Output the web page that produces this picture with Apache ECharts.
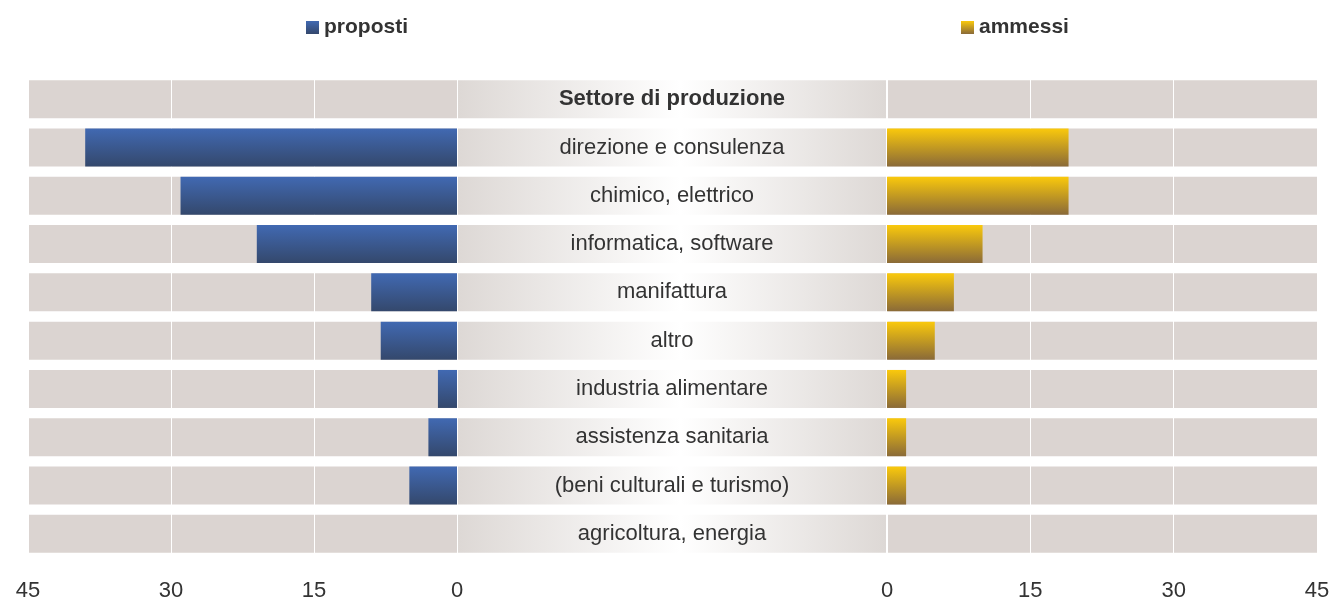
<!DOCTYPE html>
<html>
<head>
<meta charset="utf-8">
<title>Settore di produzione</title>
<script src="https://cdn.jsdelivr.net/npm/echarts@6/dist/echarts.min.js"></script>
<style>
  html, body { margin: 0; padding: 0; background: #fff; }
  #chart { width: 1330px; height: 600px; }
</style>
</head>
<body>
<div id="chart"></div>
<script>
// dati
const categorie = [
  'Settore di produzione',
  'direzione e consulenza',
  'chimico, elettrico',
  'informatica, software',
  'manifattura',
  'altro',
  'industria alimentare',
  'assistenza sanitaria',
  '(beni culturali e turismo)',
  'agricoltura, energia'
];
const proposti = ['-', 39, 29, 21, 9, 8, 2, 3, 5, 0];
const ammessi = ['-', 19, 19, 10, 7, 5, 2, 2, 2, 0];
const tickValori = [0, 15, 30, 45];

const asseMax = tickValori[tickValori.length - 1];
const sfondo = categorie.map(() => asseMax);
const centro = categorie.map(() => 1);

const chart = echarts.init(document.getElementById('chart'));

const gridTop = 75, gridH = 483;
const fontTesto = '"Liberation Sans", Arial, sans-serif';

const blu = new echarts.graphic.LinearGradient(0, 0, 0, 1, [
  { offset: 0, color: '#4169b2' },
  { offset: 1, color: '#34486c' }
]);
const oro = new echarts.graphic.LinearGradient(0, 0, 0, 1, [
  { offset: 0, color: '#fac90c' },
  { offset: 1, color: '#8a6a38' }
]);
const grigioCentro = new echarts.graphic.LinearGradient(0, 0, 1, 0, [
  { offset: 0, color: '#ddd8d5' },
  { offset: 0.52, color: '#ffffff' },
  { offset: 1, color: '#ddd8d5' }
]);

function asseValori(gridIndex, inverse) {
  return {
    type: 'value', gridIndex: gridIndex, inverse: inverse,
    min: 0, max: asseMax, interval: 15, z: 2,
    axisLine: { show: false }, axisTick: { show: false },
    splitLine: { show: true, lineStyle: { color: '#ffffff', width: 1 } },
    axisLabel: {
      margin: 22, fontSize: 22, color: '#333', fontFamily: fontTesto,
      showMinLabel: true, showMaxLabel: true
    }
  };
}
function asseCat(gridIndex) {
  return {
    type: 'category', gridIndex: gridIndex, data: categorie, inverse: true,
    axisLine: { show: false }, axisTick: { show: false }, axisLabel: { show: false },
    splitLine: { show: false }
  };
}

chart.setOption({
  animation: false,
  legend: [
    {
      data: [{ name: 'proposti', itemStyle: { color: blu } }],
      left: 301, top: 12, itemWidth: 13, itemHeight: 13, icon: 'rect', itemGap: 8,
      textStyle: { fontSize: 21, fontWeight: 'bold', color: '#333', fontFamily: fontTesto }
    },
    {
      data: [{ name: 'ammessi', itemStyle: { color: oro } }],
      left: 956, top: 12, itemWidth: 13, itemHeight: 13, icon: 'rect', itemGap: 8,
      textStyle: { fontSize: 21, fontWeight: 'bold', color: '#333', fontFamily: fontTesto }
    }
  ],
  grid: [
    { left: 28, width: 429, top: gridTop, height: gridH, outerBoundsMode: 'none', containLabel: false },
    { left: 458, width: 428, top: gridTop, height: gridH, outerBoundsMode: 'none', containLabel: false },
    { left: 887, width: 430, top: gridTop, height: gridH, outerBoundsMode: 'none', containLabel: false }
  ],
  xAxis: [
    asseValori(0, true),
    { type: 'value', gridIndex: 1, min: 0, max: 1, show: false },
    asseValori(2, false)
  ],
  yAxis: [asseCat(0), asseCat(1), asseCat(2)],
  series: [
    {
      name: 'sfondo-sx', type: 'bar', xAxisIndex: 0, yAxisIndex: 0, data: sfondo,
      barWidth: 38, barGap: '-100%', z: 1, silent: true,
      itemStyle: { color: '#dbd4d1' }
    },
    {
      name: 'proposti', type: 'bar', xAxisIndex: 0, yAxisIndex: 0, data: proposti,
      barWidth: 38, barGap: '-100%', z: 3,
      itemStyle: { color: blu }
    },
    {
      name: 'centro', type: 'bar', xAxisIndex: 1, yAxisIndex: 1, data: centro,
      barWidth: 38, z: 1, silent: true,
      itemStyle: { color: grigioCentro },
      label: {
        show: true, position: 'inside', color: '#333', fontSize: 22, fontFamily: fontTesto,
        formatter: p => p.dataIndex === 0 ? '{h|' + p.name + '}' : p.name,
        rich: { h: { fontSize: 22, fontWeight: 'bold', color: '#333', fontFamily: fontTesto } }
      }
    },
    {
      name: 'sfondo-dx', type: 'bar', xAxisIndex: 2, yAxisIndex: 2, data: sfondo,
      barWidth: 38, barGap: '-100%', z: 1, silent: true,
      itemStyle: { color: '#dbd4d1' }
    },
    {
      name: 'ammessi', type: 'bar', xAxisIndex: 2, yAxisIndex: 2, data: ammessi,
      barWidth: 38, barGap: '-100%', z: 3,
      itemStyle: { color: oro }
    }
  ]
});
</script>
</body>
</html>
